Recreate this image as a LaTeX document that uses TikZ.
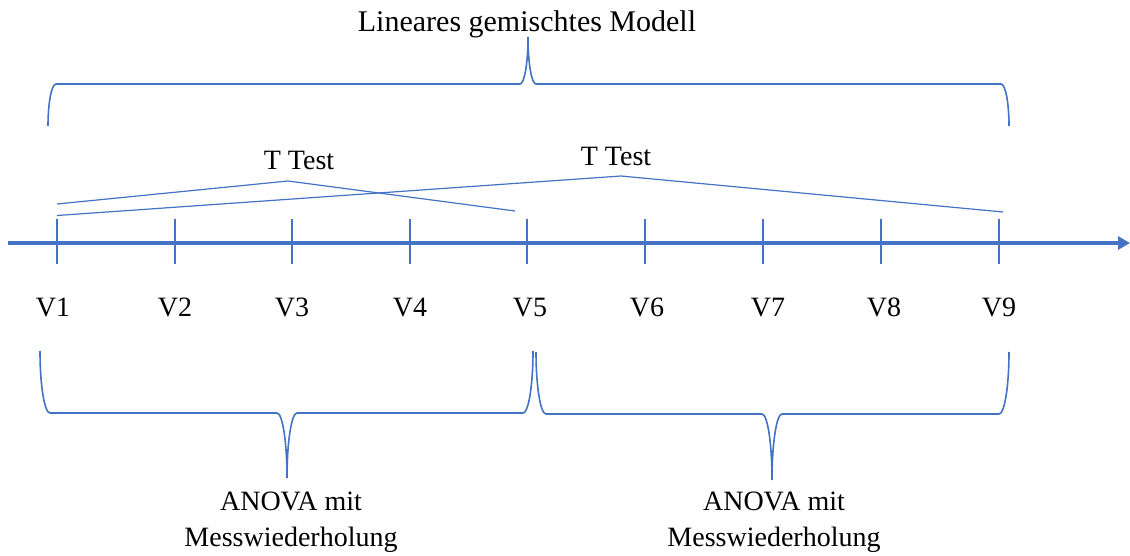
\documentclass[tikz,border=0pt]{standalone}
\usepackage{fontspec}
\setmainfont{Liberation Serif}
\usetikzlibrary{arrows.meta}
\definecolor{pblue}{HTML}{4472C4}
\newcommand\mybrace[7]{%
  \pgfmathsetmacro\ka{0.5523}%
  \draw[bracestyle] (#1,#4) .. controls (#1,{#4+\ka*(#5-#4)}) and ({#1+#7-\ka*#7},#5) .. ({#1+#7},#5)
    -- ({#3-#7},#5) .. controls ({#3-#7+\ka*#7},#5) and (#3,{#6+\ka*(#5-#6)}) .. (#3,#6)
    .. controls (#3,{#6+\ka*(#5-#6)}) and ({#3+#7-\ka*#7},#5) .. ({#3+#7},#5)
    -- ({#2-#7},#5) .. controls ({#2-#7+\ka*#7},#5) and (#2,{#4+\ka*(#5-#4)}) .. (#2,#4);}
\begin{document}
\begin{tikzpicture}[x=1pt,y=-1pt,
  bracestyle/.style={draw=pblue,line width=1.6pt},
  axisline/.style={draw=pblue,line width=3.5pt,-{Triangle[length=12pt,width=13pt]}},
  tickline/.style={draw=pblue,line width=1.5pt},
  tline/.style={draw=pblue,line width=1.2pt,line join=round},
  lbl/.style={inner sep=0pt,font=\fontsize{28}{34}\selectfont,text=black}]
\useasboundingbox[fill=white] (0,0) rectangle (1130,556);
% labels
\node[lbl,anchor=base,font=\fontsize{30}{36}\selectfont] (lgm) at (527,32) {Lineares gemischtes Modell};
\node[lbl,anchor=base] (tt1) at (299,170) {T Test};
\node[lbl,anchor=base] (tt2) at (616,166) {T Test};
\node[lbl,anchor=base,align=center] (an1) at (291,546) {ANOVA mit\\[2pt]Messwiederholung};
\node[lbl,anchor=base,align=center] (an2) at (774,546) {ANOVA mit\\[2pt]Messwiederholung};
% axis
\coordinate (ax0) at (8,243);
\coordinate (ax1) at (1130,243);
\draw[axisline] (ax0) -- (ax1);
% ticks and V labels
\foreach \i/\x/\lx in {1/57/53,2/175/175,3/292/292,4/410/410,5/527/530,6/645/647,7/763/768,8/881/884,9/999/999}{
  \coordinate (tt\i) at (\x,219);
  \coordinate (tb\i) at (\x,264);
  \draw[tickline] (tt\i) -- (tb\i);
  \node[lbl,anchor=base] (v\i) at (\lx,316) {V\i};
}
% T test lines
\coordinate (a1) at (57,204);
\coordinate (p1) at (288,181);
\coordinate (b1) at (515,211);
\coordinate (a2) at (57,215.5);
\coordinate (p2) at (621,176);
\coordinate (b2) at (1003,212);
\draw[tline] (a1) -- (p1) -- (b1);
\draw[tline] (a2) -- (p2) -- (b2);
% braces
\mybrace{48}{1009}{528}{126}{84}{37}{8}
\mybrace{40}{533}{287}{351}{413}{478}{10}
\mybrace{536}{1009}{772}{352}{414}{480}{10}
\end{tikzpicture}
\end{document}
